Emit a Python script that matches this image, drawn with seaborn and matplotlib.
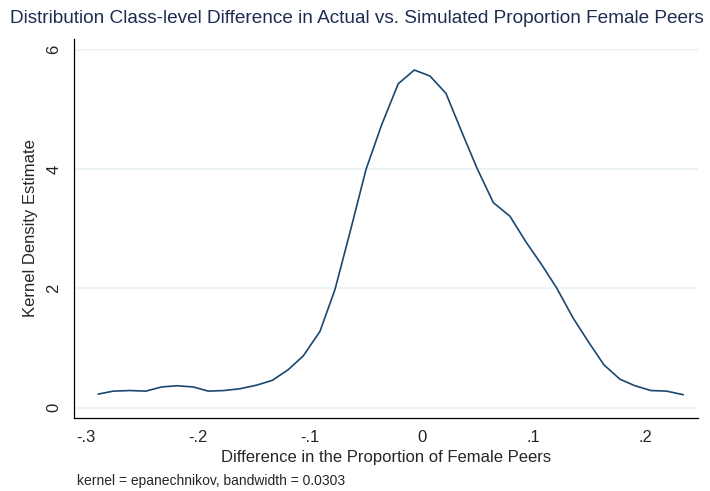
import numpy as np
import pandas as pd
import matplotlib
matplotlib.use("Agg")
import matplotlib.pyplot as plt
import seaborn as sns

# kdensity evaluation points
diff = [-0.2889, -0.2755, -0.2606, -0.2463, -0.2323, -0.2183, -0.2040, -0.1906,
        -0.1766, -0.1623, -0.1474, -0.1334, -0.1191, -0.1057, -0.0908, -0.0774,
        -0.0634, -0.0497, -0.0357, -0.0208, -0.0065, 0.0075, 0.0218, 0.0358,
        0.0492, 0.0641, 0.0790, 0.0933, 0.1073, 0.1207, 0.1356, 0.1490,
        0.1630, 0.1773, 0.1907, 0.2050, 0.2190, 0.2339]
density = [0.23, 0.28, 0.29, 0.28, 0.35, 0.37, 0.35, 0.28,
           0.29, 0.32, 0.38, 0.46, 0.64, 0.87, 1.28, 1.98,
           2.98, 3.99, 4.74, 5.43, 5.66, 5.56, 5.27, 4.63,
           4.03, 3.44, 3.21, 2.78, 2.40, 2.01, 1.50, 1.11,
           0.72, 0.48, 0.37, 0.29, 0.28, 0.22]

xticks = [-0.3, -0.2, -0.1, 0, 0.1, 0.2]
xtick_labels = ["-.3", "-.2", "-.1", "0", ".1", ".2"]
yticks = [0, 2, 4, 6]

df = pd.DataFrame({"diff": diff, "density": density})

sns.set_style("white")
plt.rcParams["font.family"] = ["Liberation Sans", "DejaVu Sans"]

fig = plt.figure(figsize=(7.1, 4.91), dpi=100)
ax = fig.add_axes([0.1042, 0.1487, 0.8788, 0.7719])

sns.lineplot(data=df, x="diff", y="density", color="#1a476f", linewidth=1.2, ax=ax)

ax.set_xlim(-0.3106, 0.247)
ax.set_ylim(-0.17, 6.18)
ax.set_xticks(xticks)
ax.set_xticklabels(xtick_labels, fontsize=12)
ax.set_yticks(yticks)
ax.set_yticklabels([str(t) for t in yticks], fontsize=12, rotation=90, va="center")

ax.grid(axis="y", color="#eaf2f3", linewidth=1.2)
ax.set_axisbelow(True)
for side in ["top", "right"]:
    ax.spines[side].set_visible(False)
for side in ["left", "bottom"]:
    ax.spines[side].set_color("black")
    ax.spines[side].set_linewidth(0.9)
ax.tick_params(axis="both", direction="out", length=5, width=0.9, color="black", pad=4)

ax.set_xlabel("Difference in the Proportion of Female Peers", fontsize=12, labelpad=3)
ax.set_ylabel("Kernel Density Estimate", fontsize=12, labelpad=6)

fig.text(0.014, 0.963, "Distribution Class-level Difference in Actual vs. Simulated Proportion Female Peers",
         fontsize=13.7, color="#1e2d52", va="center", ha="left")
fig.text(0.108, 0.02, "kernel = epanechnikov, bandwidth = 0.0303", fontsize=10, va="center", ha="left")

fig.savefig("out.png", dpi=100)
